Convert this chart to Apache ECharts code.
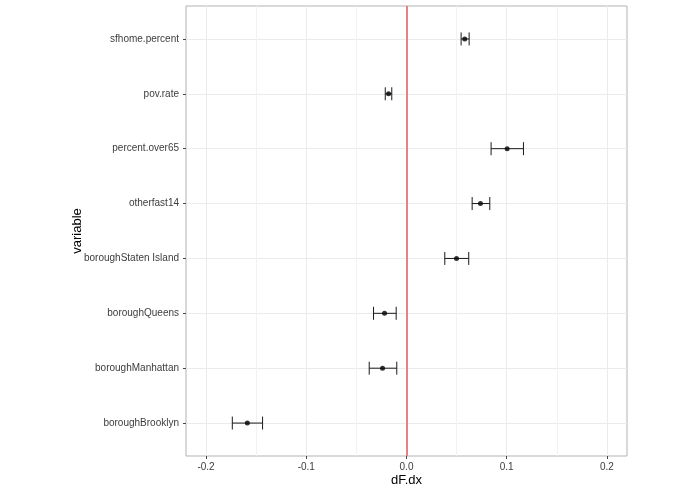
<!DOCTYPE html>
<html>
<head>
<meta charset="utf-8">
<script src="https://cdn.jsdelivr.net/npm/echarts@6/dist/echarts.min.js"></script>
<style>
  html, body { margin: 0; padding: 0; background: #fff; }
  #main { width: 695px; height: 494px; }
</style>
</head>
<body>
<div id="main"></div>
<script>
// variables, bottom to top (ggplot factor order)
var variables = ['boroughBrooklyn', 'boroughManhattan', 'boroughQueens', 'boroughStaten Island',
                 'otherfast14', 'percent.over65', 'pov.rate', 'sfhome.percent'];
var dFdx  = [-0.1588, -0.0239, -0.0219, 0.0499, 0.0738, 0.1004, -0.0179, 0.0581];
var lower = [-0.1738, -0.0372, -0.0329, 0.0382, 0.0655, 0.0844, -0.0212, 0.0545];
var upper = [-0.1436, -0.0097, -0.0103, 0.0621, 0.0831, 0.1167, -0.0147, 0.0625];
var xTicks = [-0.2, -0.1, 0, 0.1, 0.2];
var xMinor = [-0.15, -0.05, 0.05, 0.15];

var yIdx = variables.map(function (v, i) { return i; });
var pts = dFdx.map(function (v, i) { return [v, i]; });
var bars = lower.map(function (v, i) { return [v, upper[i], i]; });

var myChart = echarts.init(document.getElementById('main'));

var option = {
    animation: false,
    backgroundColor: '#fff',
    grid: { left: 186, right: 68, top: 6, bottom: 38, containLabel: false, outerBoundsMode: 'none',
            show: true, borderColor: '#b3b3b3', borderWidth: 1 },
    xAxis: {
        type: 'value',
        min: -0.22,
        max: 0.22,
        name: 'dF.dx',
        nameLocation: 'middle',
        nameGap: 18,
        nameMoveOverlap: false,
        nameTextStyle: { fontFamily: 'Liberation Sans', fontSize: 13, color: '#000' },
        axisLine: { show: false, onZero: false },
        axisTick: { show: true, length: 3, customValues: xTicks, lineStyle: { color: '#444' } },
        axisLabel: { customValues: xTicks, fontFamily: 'Liberation Sans', fontSize: 10, color: '#3c3c3c', margin: 6,
                     formatter: function (v) { return v.toFixed(1); } },
        splitLine: { show: true, lineStyle: { color: '#ebebeb', width: 1 } }
    },
    yAxis: {
        type: 'value',
        min: -0.6,
        max: 7.6,
        name: 'variable',
        nameLocation: 'middle',
        nameGap: 102,
        nameRotate: 90,
        nameMoveOverlap: false,
        nameTextStyle: { fontFamily: 'Liberation Sans', fontSize: 13, color: '#000' },
        axisLine: { show: false, onZero: false },
        axisTick: { show: true, length: 3, customValues: yIdx, lineStyle: { color: '#444' } },
        axisLabel: { customValues: yIdx, fontFamily: 'Liberation Sans', fontSize: 10, color: '#3c3c3c', margin: 7,
                     formatter: function (v) { return variables[Math.round(v)]; } },
        splitLine: { show: true, lineStyle: { color: '#ebebeb', width: 1 } }
    },
    series: [
        {
            // minor vertical grid lines
            type: 'line',
            data: [],
            silent: true,
            z: 0,
            markLine: {
                silent: true,
                z: 0,
                symbol: 'none',
                label: { show: false },
                lineStyle: { color: '#f2f2f2', width: 1, type: 'solid' },
                data: xMinor.map(function (v) { return { xAxis: v }; })
            }
        },
        {
            // zero reference line
            type: 'line',
            data: [],
            silent: true,
            z: 1,
            markLine: {
                silent: true,
                z: 1,
                symbol: 'none',
                label: { show: false },
                lineStyle: { color: '#e88282', width: 2, type: 'solid' },
                data: [{ xAxis: 0 }]
            }
        },
        {
            type: 'custom',
            z: 3,
            data: bars,
            renderItem: function (params, api) {
                var a = api.coord([api.value(0), api.value(2)]);
                var b = api.coord([api.value(1), api.value(2)]);
                var h = 6.5;
                var st = { stroke: '#1a1a1a', lineWidth: 1 };
                return {
                    type: 'group',
                    children: [
                        { type: 'line', shape: { x1: a[0], y1: a[1], x2: b[0], y2: b[1] }, style: st },
                        { type: 'line', shape: { x1: a[0], y1: a[1] - h, x2: a[0], y2: a[1] + h }, style: st },
                        { type: 'line', shape: { x1: b[0], y1: b[1] - h, x2: b[0], y2: b[1] + h }, style: st }
                    ]
                };
            }
        },
        {
            type: 'scatter',
            z: 4,
            symbol: 'circle',
            symbolSize: 5,
            itemStyle: { color: '#000' },
            data: pts
        }
    ]
};
myChart.setOption(option);
</script>
</body>
</html>
